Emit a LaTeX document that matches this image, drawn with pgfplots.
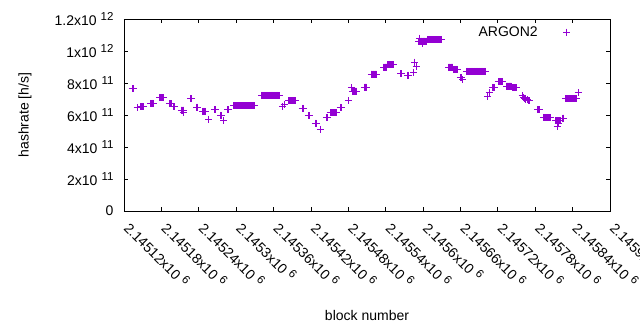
\documentclass[border=0pt]{standalone}
\usepackage{fontspec}
\setmainfont{Liberation Sans}
\usepackage{pgfplots}
\pgfplotsset{compat=1.18}
\definecolor{argon}{RGB}{148,0,211}
\newcommand{\sx}[1]{\hspace{4pt}\raisebox{5pt}{\fontsize{11.5}{12}\selectfont #1}}

\begin{document}
\begin{tikzpicture}[font=\fontsize{14}{16}\selectfont]
\begin{axis}[
  scale only axis, width=486pt, height=192pt,
  xmin=120, xmax=900, ymin=0, ymax=12,
  xtick={120,180,...,900},
  xticklabels={2.14512x10\sx{6},2.14518x10\sx{6},2.14524x10\sx{6},2.1453x10\sx{6},2.14536x10\sx{6},2.14542x10\sx{6},2.14548x10\sx{6},2.14554x10\sx{6},2.1456x10\sx{6},2.14566x10\sx{6},2.14572x10\sx{6},2.14578x10\sx{6},2.14584x10\sx{6},2.1459x10\sx{6}},
  ytick={0,2,...,12},
  yticklabels={0,2x10\sx{11},4x10\sx{11},6x10\sx{11},8x10\sx{11},1x10\sx{12},1.2x10\sx{12}},
  tick align=inside, major tick length=4pt,
  axis line style={line width=0.8pt},
  every tick/.style={black, line width=0.8pt},
  xticklabel style={anchor=base west, inner sep=0pt, xshift=-1pt, yshift=-18pt, rotate=-45},
  yticklabel style={xshift=-7pt},
  xlabel={block number}, ylabel={hashrate [h/s]},
  xlabel style={at={(axis description cs:0.5,-0.5417)}, anchor=center},
  ylabel style={at={(axis description cs:-0.2037,0.5)}, anchor=center},
  legend plot pos=right,
  legend cell align=right,
  legend style={draw=none, fill=none, at={(0.967,0.932)}, anchor=east, inner sep=0pt},
  legend image code/.code={\path[draw=none,fill=none] (0pt,-3pt) (54pt,3pt); \draw[mark repeat=2,mark phase=2] plot coordinates {(0pt,0pt)(27pt,0pt)(54pt,0pt)};},
]
\addplot[only marks, mark=+, mark size=3.5pt, color=argon, line width=1pt] coordinates {
(133,7.63)(134,7.63)(135,7.63)(136,7.63)
(141,6.44)
(147,6.53)(148,6.53)(149,6.53)(150,6.53)(151,6.53)
(163,6.72)(164,6.72)(165,6.72)(166,6.72)(167,6.72)
(177,7.09)(178,7.09)(179,7.09)(180,7.09)(181,7.09)(182,7.09)(183,7.09)
(193,6.70)(194,6.70)(195,6.70)(196,6.70)
(199,6.53)(200,6.53)(201,6.53)
(212,6.31)(213,6.31)(214,6.31)(215,6.13)(215,6.31)(216,6.31)
(227,7.03)(228,7.03)(229,7.03)
(237,6.50)(238,6.50)
(246,6.22)(247,6.22)(248,6.22)(249,6.22)(250,6.22)(251,6.22)
(256,5.72)
(265,6.34)(266,6.34)(267,6.34)
(275,5.97)(276,5.97)
(280,5.63)
(286,6.34)(287,6.34)
(296,6.59)(297,6.59)(298,6.59)(299,6.59)(300,6.59)(301,6.59)(302,6.59)(303,6.59)(304,6.59)(305,6.59)
(306,6.59)(307,6.59)(308,6.59)(309,6.59)(310,6.59)(311,6.59)(312,6.59)(313,6.59)(314,6.59)(315,6.59)
(316,6.59)(317,6.59)(318,6.59)(319,6.59)(320,6.59)(321,6.59)(322,6.59)(323,6.59)(324,6.59)(325,6.59)
(326,6.59)(327,6.59)(328,6.59)(329,6.59)(330,6.59)
(341,7.22)(342,7.22)(343,7.22)(344,7.22)(345,7.22)(346,7.22)(347,7.22)(348,7.22)(349,7.22)(350,7.22)
(351,7.22)(352,7.22)(353,7.22)(354,7.22)(355,7.22)(356,7.22)(357,7.22)(358,7.22)(359,7.22)(360,7.22)
(361,7.22)(362,7.22)(363,7.22)(364,7.22)(365,7.22)(366,7.22)(367,7.22)(368,7.22)(369,7.22)
(375,6.55)(377,6.63)
(384,6.88)(385,6.88)(386,6.88)(387,6.88)(388,6.88)(389,6.88)(390,6.88)(391,6.88)(392,6.88)(393,6.88)
(394,6.88)(395,6.88)(396,6.88)
(406,6.41)(407,6.41)(408,6.41)
(416,5.94)(417,5.94)(418,5.94)
(427,5.47)(428,5.47)(429,5.47)
(435,5.10)
(445,5.84)(446,5.84)
(451,6.13)(452,6.13)(453,6.13)(454,6.13)(455,6.13)(456,6.13)(457,6.13)(458,6.13)(459,6.13)(460,6.13)(461,6.13)
(467,6.44)(468,6.44)(469,6.44)
(480,6.90)(481,6.90)
(485,7.70)
(487,7.50)(488,7.50)(489,7.50)(490,7.50)(491,7.50)(492,7.50)(493,7.50)
(506,7.75)(507,7.75)(508,7.75)(509,7.75)
(517,8.56)(518,8.56)(519,8.56)(520,8.56)(521,8.56)(522,8.56)(523,8.56)(524,8.56)(525,8.56)
(537,9.00)(538,9.00)(539,9.00)(540,9.00)(541,9.00)(542,9.00)
(543,9.13)(544,9.13)(545,9.13)(546,9.13)(547,9.13)(548,9.13)(549,9.13)(550,9.13)(551,9.13)(552,9.13)(553,9.13)
(564,8.59)(565,8.59)(566,8.59)
(575,8.47)(576,8.47)(577,8.47)
(585,8.66)
(587,9.31)(589,9.06)
(593,10.62)(594,10.62)(595,10.62)(595,10.80)(596,10.62)(597,10.62)(598,10.62)(599,10.62)(599,10.45)(600,10.62)
(601,10.62)(602,10.62)(603,10.62)(604,10.62)(605,10.62)(606,10.62)
(607,10.69)(608,10.69)(609,10.69)(610,10.69)(611,10.69)(612,10.69)(613,10.69)(614,10.69)(615,10.69)(616,10.69)
(617,10.69)(618,10.69)(619,10.69)(620,10.69)(621,10.69)(622,10.69)(623,10.69)(624,10.69)(625,10.69)(626,10.69)
(627,10.69)(628,10.69)(629,10.69)
(641,9.00)(642,9.00)(643,9.00)(644,9.00)(645,9.00)(646,9.00)(647,9.00)(648,9.00)
(649,8.85)(650,8.85)(651,8.85)(652,8.85)(653,8.85)(654,8.85)(655,8.85)
(660,8.33)(661,8.33)(662,8.33)(664,8.20)
(670,8.72)(671,8.72)(672,8.72)(673,8.72)(674,8.72)(675,8.72)(676,8.72)(677,8.72)(678,8.72)(679,8.72)
(680,8.72)(681,8.72)(682,8.72)(683,8.72)(684,8.72)(685,8.72)(686,8.72)(687,8.72)(688,8.72)(689,8.72)
(690,8.72)(691,8.72)(692,8.72)(693,8.72)(694,8.72)(695,8.72)(696,8.72)(697,8.72)(698,8.72)(699,8.72)(700,8.72)
(704,7.13)(706,7.38)
(712,7.72)(713,7.72)(714,7.72)
(721,8.09)(722,8.09)(723,8.09)(724,8.09)(725,8.09)(726,8.09)(727,8.09)
(734,7.80)(735,7.80)(736,7.80)(737,7.80)(738,7.80)(739,7.80)(740,7.80)(741,7.80)(742,7.80)
(743,7.70)(744,7.70)(745,7.70)(746,7.70)(747,7.70)(748,7.70)(749,7.70)(750,7.70)
(759,7.19)(761,7.12)(763,7.05)(765,7.00)(767,6.95)(769,6.90)(771,6.88)
(784,6.34)(785,6.34)(786,6.34)(787,6.34)
(793,5.84)(794,5.84)(795,5.84)(796,5.84)(797,5.84)(798,5.84)(799,5.84)(800,5.84)(801,5.84)(802,5.84)
(803,5.84)(804,5.84)(805,5.84)
(813,5.63)(814,5.63)(815,5.63)(815,5.31)(816,5.63)(817,5.63)(817,5.45)(818,5.63)(819,5.63)(820,5.63)(821,5.63)
(824,5.81)(825,5.81)(826,5.81)
(829,7.03)(830,7.03)(831,7.03)(832,7.03)(833,7.03)(834,7.03)(835,7.03)(836,7.03)(837,7.03)(838,7.03)
(839,7.03)(840,7.03)(841,7.03)(842,7.03)(843,7.03)(844,7.03)(845,7.03)(846,7.03)
(849,7.38)
};
\addlegendentry{ARGON2}
\end{axis}
\pgfresetboundingbox
\path (current axis.south west) ++(-124pt,-119pt) rectangle ++(640pt,330pt);
\end{tikzpicture}
\end{document}
